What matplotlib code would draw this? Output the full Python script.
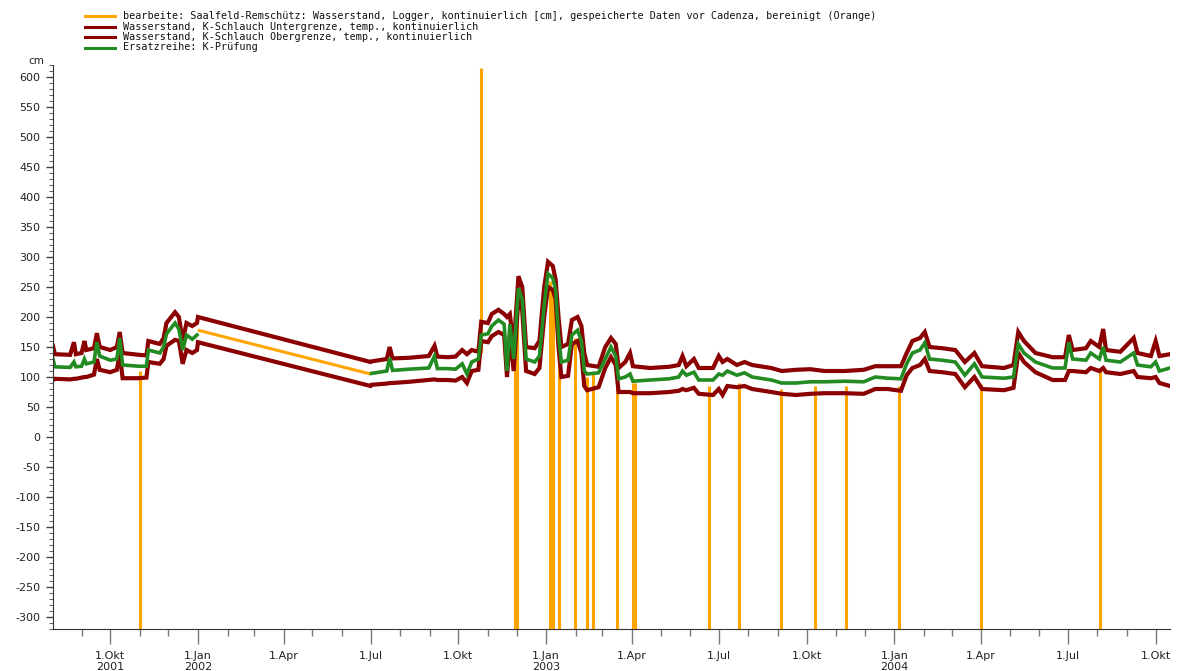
import numpy as np
import pandas as pd
import matplotlib
matplotlib.use("Agg")
import matplotlib.pyplot as plt
import matplotlib.dates as mdates
from matplotlib.lines import Line2D
from matplotlib.ticker import MultipleLocator, FixedLocator, NullFormatter

plt.rcParams["axes.unicode_minus"] = False

# =====================================================
# Data
# =====================================================

dates = [
    "2001-08-02", "2001-08-04", "2001-08-20", "2001-08-24", "2001-08-26",
    "2001-09-01", "2001-09-04", "2001-09-06", "2001-09-14", "2001-09-17",
    "2001-09-20", "2001-10-01", "2001-10-08", "2001-10-11", "2001-10-14",
    "2001-10-31", "2001-11-08", "2001-11-10", "2001-11-22", "2001-11-26",
    "2001-11-29", "2001-12-08", "2001-12-12", "2001-12-16", "2001-12-20",
    "2001-12-26", "2001-12-31",
    "2002-01-01", "2002-07-01",
    "2002-07-02", "2002-07-18", "2002-07-21", "2002-07-24", "2002-08-10",
    "2002-08-31", "2002-09-06", "2002-09-09", "2002-09-20", "2002-09-28",
    "2002-10-05", "2002-10-10", "2002-10-15", "2002-10-22", "2002-10-25",
    "2002-11-01", "2002-11-05", "2002-11-12", "2002-11-18", "2002-11-21",
    "2002-11-24", "2002-11-28", "2002-12-03", "2002-12-07", "2002-12-11",
    "2002-12-20", "2002-12-25", "2002-12-30", "2003-01-03", "2003-01-08",
    "2003-01-11", "2003-01-14", "2003-01-17", "2003-01-24", "2003-01-28",
    "2003-02-03", "2003-02-07", "2003-02-10", "2003-02-13", "2003-02-25",
    "2003-03-04", "2003-03-10", "2003-03-15", "2003-03-18", "2003-03-25",
    "2003-03-30", "2003-04-02",
    "2003-04-20", "2003-05-10", "2003-05-20", "2003-05-24", "2003-05-28",
    "2003-06-05", "2003-06-10", "2003-06-25", "2003-07-01", "2003-07-05",
    "2003-07-10", "2003-07-20", "2003-07-28", "2003-08-05", "2003-08-25",
    "2003-09-05", "2003-09-20", "2003-10-05", "2003-10-20", "2003-11-10",
    "2003-11-30", "2003-12-12", "2003-12-25",
    "2004-01-08", "2004-01-14", "2004-01-20", "2004-01-28", "2004-02-02",
    "2004-02-07", "2004-02-20", "2004-03-05", "2004-03-15", "2004-03-25",
    "2004-04-02", "2004-04-25", "2004-05-05", "2004-05-10", "2004-05-16",
    "2004-05-28", "2004-06-15", "2004-06-28", "2004-07-02", "2004-07-06",
    "2004-07-20", "2004-07-25", "2004-08-03", "2004-08-07", "2004-08-10",
    "2004-08-25", "2004-09-08", "2004-09-12", "2004-09-26", "2004-10-01",
    "2004-10-05", "2004-10-16",
]

upper = [
    152, 138, 137, 158, 138,
    140, 160, 145, 148, 173,
    150, 145, 150, 175, 140,
    137, 136, 160, 155, 165,
    190, 208, 200, 160, 190,
    185, 190,
    200, 125,
    126, 130, 150, 131, 132,
    135, 152, 134, 133, 134,
    145, 138, 145, 142, 192,
    190, 205, 212, 205, 200,
    205, 150, 268, 250, 150,
    148, 160, 250, 292, 285,
    262, 200, 150, 155, 195,
    200, 185, 140, 120, 117,
    150, 165, 155, 115, 125,
    140, 118,
    115, 117, 120, 135, 118,
    130, 115, 115, 135, 125,
    130, 120, 125, 120, 115,
    110, 112, 113, 110, 110,
    112, 118, 118,
    118, 140, 160, 165, 175,
    150, 148, 145, 125, 140,
    118, 115, 120, 175, 160,
    140, 133, 133, 170, 145,
    148, 160, 150, 180, 145,
    142, 165, 140, 135, 160,
    135, 138,
]

green = [
    130, 117, 116, 125, 117,
    118, 130, 122, 125, 158,
    135, 128, 130, 165, 120,
    118, 118, 145, 140, 150,
    172, 190, 180, 145, 170,
    163, 170,
    np.nan, np.nan,
    106, 110, 132, 111, 113,
    115, 135, 114, 114, 113,
    122, 105, 125, 130, 170,
    172, 185, 195, 188, 110,
    188, 130, 248, 230, 130,
    125, 135, 220, 272, 265,
    245, 170, 125, 128, 170,
    178, 160, 110, 105, 107,
    130, 150, 135, 97, 100,
    105, 93,
    95, 97, 100, 110, 103,
    108, 95, 95, 105, 103,
    110, 103, 107, 100, 95,
    90, 90, 92, 92, 93,
    92, 100, 98,
    97, 122, 140, 145, 157,
    130, 128, 125, 103, 122,
    100, 98, 100, 155, 140,
    125, 115, 115, 158, 130,
    128, 140, 130, 150, 128,
    125, 140, 120, 117, 125,
    110, 115,
]

lower = [
    95, 97, 96, 97, 97,
    99, 100, 100, 104, 130,
    112, 108, 112, 140, 98,
    98, 99, 125, 122, 130,
    152, 162, 160, 122, 145,
    140, 145,
    158, 85,
    87, 89, 90, 90, 92,
    95, 96, 95, 95, 94,
    100, 90, 110, 112, 160,
    158, 168, 175, 170, 100,
    170, 110, 232, 210, 110,
    105, 115, 200, 250, 245,
    230, 150, 100, 102, 155,
    160, 140, 85, 78, 83,
    115, 133, 120, 75, 75,
    75, 73,
    73, 75, 77, 80, 78,
    82, 72, 70, 80, 70,
    85, 83, 85, 80, 75,
    72, 70, 72, 73, 73,
    72, 80, 80,
    77, 103, 115, 120, 130,
    110, 108, 105, 83, 100,
    80, 78, 82, 140, 125,
    108, 95, 95, 110, 110,
    108, 115, 110, 115, 108,
    105, 110, 100, 98, 100,
    90, 85,
]

# orange logger series: straight line across the data gap, one spike up
gap_dates = ["2002-01-01", "2002-07-01"]
gap_values = [178, 105]

spike_date = "2002-10-25"
spike_range = [140, 615]

# orange logger series: drop-outs to the bottom of the chart
drop_dates = [
    "2001-11-01", "2002-11-29", "2002-12-02", "2003-01-05", "2003-01-08",
    "2003-01-15", "2003-01-31", "2003-02-13", "2003-02-19", "2003-03-16",
    "2003-04-02", "2003-04-04", "2003-06-21", "2003-07-22", "2003-09-04",
    "2003-10-10", "2003-11-11", "2004-01-06", "2004-04-01", "2004-08-04",
]
drop_tops = [
    110, 150, 240, 260, 250,
    180, 165, 100, 105, 120,
    90, 90, 85, 90, 80,
    85, 85, 85, 88, 115,
]

legend_labels = [
    "bearbeite: Saalfeld-Remschütz: Wasserstand, Logger, kontinuierlich [cm], "
    "gespeicherte Daten vor Cadenza, bereinigt (Orange)",
    "Wasserstand, K-Schlauch Untergrenze, temp., kontinuierlich",
    "Wasserstand, K-Schlauch Obergrenze, temp., kontinuierlich",
    "Ersatzreihe: K-Prüfung",
]

tick_dates = [
    "2001-10-01", "2002-01-01", "2002-04-01", "2002-07-01", "2002-10-01",
    "2003-01-01", "2003-04-01", "2003-07-01", "2003-10-01", "2004-01-01",
    "2004-04-01", "2004-07-01", "2004-10-01",
]
tick_labels = [
    "1.Okt\n2001", "1.Jan\n2002", "1.Apr", "1.Jul", "1.Okt",
    "1.Jan\n2003", "1.Apr", "1.Jul", "1.Okt", "1.Jan\n2004",
    "1.Apr", "1.Jul", "1.Okt",
]

x_range = ["2001-08-02", "2004-10-16"]
y_range = [-320, 620]

# =====================================================
# Colours
# =====================================================

ORANGE = "#ffa500"
DARKRED = "#8b0000"
GREEN = "#228b22"

# =====================================================
# Plot
# =====================================================

t = pd.to_datetime(dates)

fig = plt.figure(figsize=(11.77, 6.71), dpi=100)
ax = fig.add_axes([0.045, 0.0626, 0.949, 0.8405])

ax.plot(pd.to_datetime(gap_dates), gap_values, color=ORANGE, lw=2.2,
        solid_capstyle="butt")
ax.vlines(pd.to_datetime([spike_date]), spike_range[0], spike_range[1],
          color=ORANGE, lw=2.2)
ax.vlines(pd.to_datetime(drop_dates), y_range[0] - 50, drop_tops,
          color=ORANGE, lw=2.2)

ax.plot(t, lower, color=DARKRED, lw=3.0, solid_joinstyle="miter")
ax.plot(t, upper, color=DARKRED, lw=3.0, solid_joinstyle="miter")
ax.plot(t, green, color=GREEN, lw=2.6, solid_joinstyle="miter")

ax.set_xlim(pd.to_datetime(x_range[0]), pd.to_datetime(x_range[1]))
ax.set_ylim(y_range)

for side in ["top", "right"]:
    ax.spines[side].set_visible(False)
ax.spines["left"].set_color("#333333")
ax.spines["bottom"].set_color("#333333")

# y axis
ax.yaxis.set_major_locator(MultipleLocator(50))
ax.yaxis.set_minor_locator(MultipleLocator(10))
ax.tick_params(axis="y", which="major", length=5, width=1, color="#444444",
               labelsize=8, labelcolor="#222222", pad=4)
ax.tick_params(axis="y", which="minor", length=3, width=0.8, color="#666666")

# x axis
ax.xaxis.set_major_locator(FixedLocator(mdates.date2num(pd.to_datetime(tick_dates))))
ax.set_xticklabels(tick_labels, fontsize=8, color="#222222", linespacing=1.15)
ax.xaxis.set_minor_locator(mdates.MonthLocator())
ax.xaxis.set_minor_formatter(NullFormatter())
ax.tick_params(axis="x", which="major", length=11, width=1, color="#777777", pad=5)
ax.tick_params(axis="x", which="minor", length=5, width=1, color="#777777")

fig.text(0.024, 0.905, "cm", fontsize=7.5, color="#222222")

# legend (top left)
legend_colors = [ORANGE, DARKRED, DARKRED, GREEN]
for i, (lab, col) in enumerate(zip(legend_labels, legend_colors)):
    y_pix = 16 + i * 10.5
    yf = 1 - y_pix / 671
    fig.add_artist(Line2D([85 / 1177, 115 / 1177], [yf, yf], color=col, lw=2.2,
                          transform=fig.transFigure))
    fig.text(123 / 1177, yf, lab, fontsize=7.3, family="DejaVu Sans Mono",
             va="center", ha="left", color="#111111")

plt.savefig("out.png", dpi=100)
